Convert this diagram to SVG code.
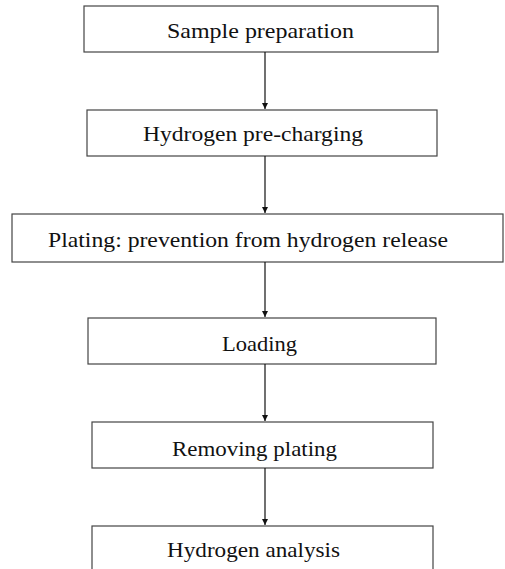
<svg xmlns="http://www.w3.org/2000/svg" width="505" height="569" viewBox="0 0 505 569">
<style>
.box{fill:#fff;stroke:#444;stroke-width:1.2}
.lbl{font-family:"Liberation Serif","DejaVu Serif",serif;font-size:21px;fill:#111}
.conn{stroke:#111;stroke-width:1.2;fill:none}
</style>
<defs>
<marker id="ah" markerWidth="8" markerHeight="8" refX="6" refY="3" orient="auto" markerUnits="userSpaceOnUse">
<path d="M0,0 L6,3 L0,6 z" fill="#111"/>
</marker>
</defs>
<rect width="505" height="569" fill="#fff"/>
<g id="n1"><rect class="box" x="84" y="6" width="354" height="46"/><text class="lbl" x="167" y="38" textLength="187" lengthAdjust="spacingAndGlyphs">Sample preparation</text></g>
<g id="n2"><rect class="box" x="87" y="110" width="350" height="46"/><text class="lbl" x="143" y="141" textLength="220" lengthAdjust="spacingAndGlyphs">Hydrogen pre-charging</text></g>
<g id="n3"><rect class="box" x="12" y="214" width="491" height="48"/><text class="lbl" x="48" y="247" textLength="400" lengthAdjust="spacingAndGlyphs">Plating: prevention from hydrogen release</text></g>
<g id="n4"><rect class="box" x="88" y="318" width="348" height="46"/><text class="lbl" x="222" y="351" textLength="75" lengthAdjust="spacingAndGlyphs">Loading</text></g>
<g id="n5"><rect class="box" x="92" y="422" width="341" height="46"/><text class="lbl" x="172" y="456" textLength="165" lengthAdjust="spacingAndGlyphs">Removing plating</text></g>
<g id="n6"><rect class="box" x="92" y="526" width="341" height="60"/><text class="lbl" x="167" y="557" textLength="173" lengthAdjust="spacingAndGlyphs">Hydrogen analysis</text></g>
<g id="connectors">
<line class="conn" x1="265" y1="52" x2="265" y2="109" marker-end="url(#ah)"/>
<line class="conn" x1="265" y1="156" x2="265" y2="213" marker-end="url(#ah)"/>
<line class="conn" x1="265" y1="262" x2="265" y2="317" marker-end="url(#ah)"/>
<line class="conn" x1="265" y1="364" x2="265" y2="421" marker-end="url(#ah)"/>
<line class="conn" x1="265" y1="468" x2="265" y2="525" marker-end="url(#ah)"/>
</g>
</svg>
